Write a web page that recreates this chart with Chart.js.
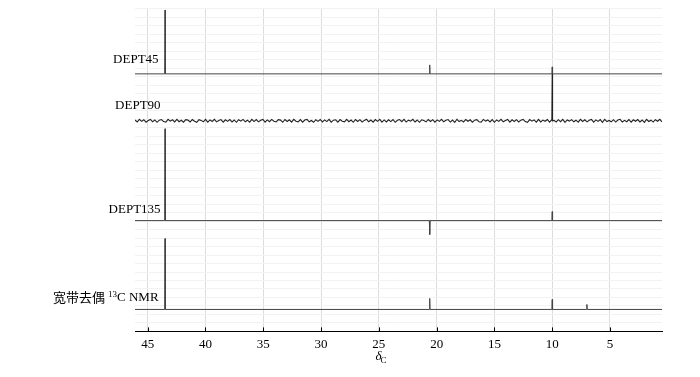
<!DOCTYPE html>
<html>
<head>
<meta charset="utf-8">
<script src="https://cdn.jsdelivr.net/npm/chart.js@4/dist/chart.umd.min.js"></script>
<style>
  html, body { margin: 0; padding: 0; background: #fff; }
  #wrap { width: 700px; height: 377px; }
</style>
</head>
<body>
<div id="wrap"><canvas id="canvas"></canvas></div>
<script>
// chemical shifts of the peaks (ppm)
const shifts = [43.5, 20.6, 10.0, 7.0];
// peak heights per spectrum (same order as shifts)
const dept45 = [64, 9, 7, 0];
const dept90 = [0, 0, 47, 0];
const dept135 = [92, -14, 9, 0];
const broadband = [71, 11, 10, 5];
// baseline noise of the DEPT90 trace
const dept90Noise = [
  0.8, -1.2, 1.5, -0.6, 1.1, -1.4, 0.3, 1.3, -1.0, 0.9, -1.5, 0.6, 1.2, -0.8, -1.3, 1.4, -0.4, 1.0, -1.1, 1.5,
  -0.9, 0.5, -1.4, 1.2, 0.7, -1.2, 1.3, -0.5, -1.5, 1.1, 0.4, -1.0, 1.4, -1.3, 0.9, -0.7, 1.5, -1.1, 0.2, 1.2,
  -1.4, 1.0, -0.6, 1.3, -1.2, 0.8, -1.5, 1.1, -0.3, 1.4, -1.0, 0.6, -1.3, 1.5, -0.8, 1.2, -1.1, 0.5, 1.3, -1.4,
  0.9, -0.9, 1.4, -0.5, -1.2, 1.1, 0.7, -1.5, 1.3, -0.7, 1.0, -1.3, 1.5, -0.4, -1.1, 1.2, -1.4, 0.8, 1.4, -1.0,
  0.3, -1.5, 1.1, -0.6, 1.3, -1.2, 0.9, -0.8, 1.5, -1.3, 0.6, 1.0, -1.4, 1.2, -0.5, -1.1, 1.4, -0.9, 0.7, -1.5,
  1.3, -0.7, 1.1, -1.2, 0.4, 1.5, -1.0, 0.8, -1.3, 1.2, -0.6, 1.4, -1.4, 0.9, -1.1, 1.0, -0.8, 1.3, -1.5, 0.5,
  1.2, -0.9, 1.4, -1.3, 0.6, -0.4, 1.5, -1.2, 0.8, -1.5, 1.0, 0.3, -1.1, 1.3, -0.7, 1.1, -1.4, 0.9, -0.6, 1.4,
  -1.0, 0.5, 1.2, -1.3, 0.7, -1.5, 1.5, -0.8, 0.4, -1.2, 1.3, -0.5, 1.0, -1.4, 0.6, 1.1, -0.9, -1.3, 1.4, -0.3,
  0.9, -1.1, 1.2, -1.5, 0.8, -0.6, 1.5, -1.0, 0.2, 1.3, -1.4, 1.0, -0.7, 1.1, -1.2, 0.6, 1.4, -0.8, -1.5, 1.2,
  -0.4, 0.9, -1.3, 1.5, -1.1, 0.7, -0.5, 1.3, -1.4, 1.0, 0.4, -1.2, 1.1, -0.9, 1.4, -1.5, 0.8, -0.3, 1.2, -1.0,
  0.6, -1.3, 1.5, -0.7, 1.0, -1.1, 0.5, 1.3, -1.4, 0.9, -0.6, 1.2, -1.5, 1.4, -0.8, 0.3, -1.0, 1.1, -1.3, 0.7,
  1.5, -1.2, 0.4, -0.9, 1.3, -1.4, 1.0, -0.5, 1.2, -1.1, 0.8, -1.5, 1.4, -0.7, 0.6, -1.3, 1.1, -0.4, 1.5, -1.0
];
const xTicks = [45, 40, 35, 30, 25, 20, 15, 10, 5];
const labels = ['DEPT45', 'DEPT90', 'DEPT135', '宽带去偶 13C NMR'];

const xMax = 46.1, xMin = 0.5;
const offsets = [258, 211, 111, 22];

function trace(heights, offset, noise) {
  const pts = [];
  if (noise) {
    noise.forEach((v, i) => {
      pts.push({ x: xMax - i * (xMax - xMin) / (noise.length - 1), y: offset + v });
    });
  } else {
    pts.push({ x: xMax, y: offset }, { x: xMin, y: offset });
  }
  shifts.forEach((s, i) => {
    if (heights[i] !== 0) {
      pts.push({ x: s + 0.03, y: offset }, { x: s, y: offset + heights[i] }, { x: s - 0.03, y: offset });
    }
  });
  pts.sort((a, b) => b.x - a.x);
  return pts;
}

const spectra = [dept45, dept90, dept135, broadband];
const datasets = spectra.map((h, i) => ({
  label: labels[i],
  data: trace(h, offsets[i], i === 1 ? dept90Noise : null),
  borderColor: i === 1 ? '#222' : '#444',
  borderWidth: i === 1 ? 1.1 : 1,
  pointRadius: 0,
  tension: 0,
  fill: false
}));

const textPlugin = {
  id: 'texts',
  afterDraw(chart) {
    const c = chart.ctx, xs = chart.scales.x, ys = chart.scales.y;
    const right = xs.getPixelForValue(43.8);
    c.save();
    c.fillStyle = '#000';
    c.textAlign = 'right';
    c.textBaseline = 'middle';
    c.font = '13px "Liberation Serif"';
    c.fillText('DEPT45', right - 3, ys.getPixelForValue(offsets[0] + 14));
    c.fillText('DEPT90', right - 1, ys.getPixelForValue(offsets[1] + 15));
    c.fillText('DEPT135', right - 1, ys.getPixelForValue(offsets[2] + 11));
    // broadband label with superscript
    const yb = ys.getPixelForValue(offsets[3] + 12);
    let x = right - 3;
    c.fillText('C NMR', x, yb);
    x -= c.measureText('C NMR').width;
    c.font = '9px "Liberation Serif"';
    c.fillText('13', x, yb - 3);
    x -= c.measureText('13').width + 3;
    c.font = '13px "Noto Sans CJK SC"';
    c.fillText('宽带去偶', x, yb);
    // axis title
    const tx = xs.getPixelForValue(25.3);
    const ty = chart.chartArea.bottom + 25;
    c.textAlign = 'left';
    c.font = 'italic 13px "Liberation Serif"';
    c.fillText('δ', tx, ty);
    const w = c.measureText('δ').width;
    c.font = '9px "Liberation Serif"';
    c.fillText('C', tx + w - 1, ty + 4);
    // small tick marks inside plot
    c.strokeStyle = '#000';
    c.lineWidth = 1;
    xTicks.forEach(t => {
      const px = Math.round(xs.getPixelForValue(t)) + 0.5;
      c.beginPath();
      c.moveTo(px, chart.chartArea.bottom);
      c.lineTo(px, chart.chartArea.bottom - 4);
      c.stroke();
    });
    c.restore();
  }
};

try {
  const ctx = document.getElementById('canvas').getContext('2d');
  new Chart(ctx, {
    type: 'line',
    data: { datasets: datasets },
    options: {
      responsive: true,
      maintainAspectRatio: false,
      animation: false,
      layout: { padding: { left: 135, right: 38, top: 8, bottom: 20 } },
      plugins: { legend: { display: false }, tooltip: { enabled: false } },
      scales: {
        x: {
          type: 'linear',
          reverse: true,
          min: xMin,
          max: xMax,
          afterBuildTicks(axis) { axis.ticks = xTicks.map(v => ({ value: v })); },
          grid: { color: '#ddd', tickLength: 0, drawTicks: false },
          border: { display: true, color: '#000', width: 1 },
          ticks: { color: '#000', padding: 5, font: { family: 'Liberation Serif', size: 13 } }
        },
        y: {
          display: true,
          min: 0,
          max: 324,
          afterBuildTicks(axis) {
            const t = [];
            for (let v = 0; v <= 324; v += 8.5) t.push({ value: v });
            axis.ticks = t;
          },
          grid: { color: '#f2f2f2', drawTicks: false },
          border: { display: false },
          ticks: { display: false }
        }
      }
    },
    plugins: [textPlugin]
  });
} catch (e) {
  console.log(e.message);
}
</script>
</body>
</html>
